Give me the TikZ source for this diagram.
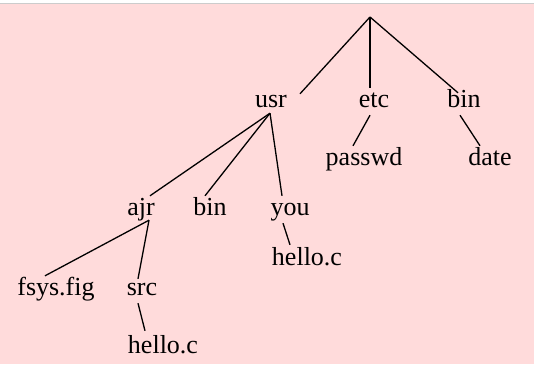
\documentclass[tikz,border=0pt]{standalone}
\usepackage{fontspec}
\setmainfont{Liberation Serif}
\definecolor{bgpink}{RGB}{255,219,219}
\tikzset{
    dir/.style={inner sep=0pt, anchor=base, text height=19pt, text depth=8pt,
        font=\fontsize{26}{30}\selectfont},
    link/.style={line width=1.3pt}
}
\begin{document}
\begin{tikzpicture}[x=1pt, y=-1pt]
    % Page
    \useasboundingbox (0,0) rectangle (534,364);
    \fill[bgpink] (0,3) rectangle (534,364);
    \draw[gray!40, line width=0.5pt] (0,3) -- (534,3);

    % Root
    \coordinate (root) at (370,17);

    % First level
    \node[dir] (usr) at (271,107) {usr};
    \node[dir] (etc) at (374,107) {etc};
    \node[dir] (bin) at (464,107) {bin};

    % Second level
    \node[dir] (passwd) at (364,165) {passwd};
    \node[dir] (date) at (490,165) {date};
    \node[dir] (ajr) at (141,215) {ajr};
    \node[dir] (usrbin) at (210,215) {bin};
    \node[dir] (you) at (290,215) {you};

    % Third level
    \node[dir] (fsys) at (56,295) {fsys.fig};
    \node[dir] (src) at (142,295) {src};
    \node[dir] (youhello) at (307,265) {hello.c};
    \node[dir] (srchello) at (163,353) {hello.c};

    % Edges
    \draw[link] (root) -- ([xshift=29pt, yshift=-6pt]usr.north);
    \draw[link] (root) -- ([xshift=-4pt]etc.north);
    \draw[link] (root) -- ([xshift=-6pt, yshift=-5pt]bin.north);
    \draw[link] ([xshift=-4pt]etc.south) -- ([xshift=-11pt]passwd.north);
    \draw[link] ([xshift=-4pt]bin.south) -- ([xshift=-10pt]date.north);
    \draw[link] ([xshift=-1pt, yshift=2pt]usr.south) -- ([xshift=9pt]ajr.north);
    \draw[link] ([xshift=-1pt, yshift=2pt]usr.south) -- ([xshift=-5pt]usrbin.north);
    \draw[link] ([xshift=-1pt, yshift=2pt]usr.south) -- ([xshift=-8pt]you.north);
    \draw[link] ([xshift=8pt, yshift=3pt]ajr.south) -- ([xshift=-11pt]fsys.north);
    \draw[link] ([xshift=8pt, yshift=3pt]ajr.south) -- ([xshift=-4pt, yshift=-3pt]src.north);
    \draw[link] ([xshift=-4pt]src.south) -- ([xshift=-18pt, yshift=3pt]srchello.north);
    \draw[link] ([xshift=-7pt]you.south) -- ([xshift=-17pt, yshift=1pt]youhello.north);
\end{tikzpicture}
\end{document}
